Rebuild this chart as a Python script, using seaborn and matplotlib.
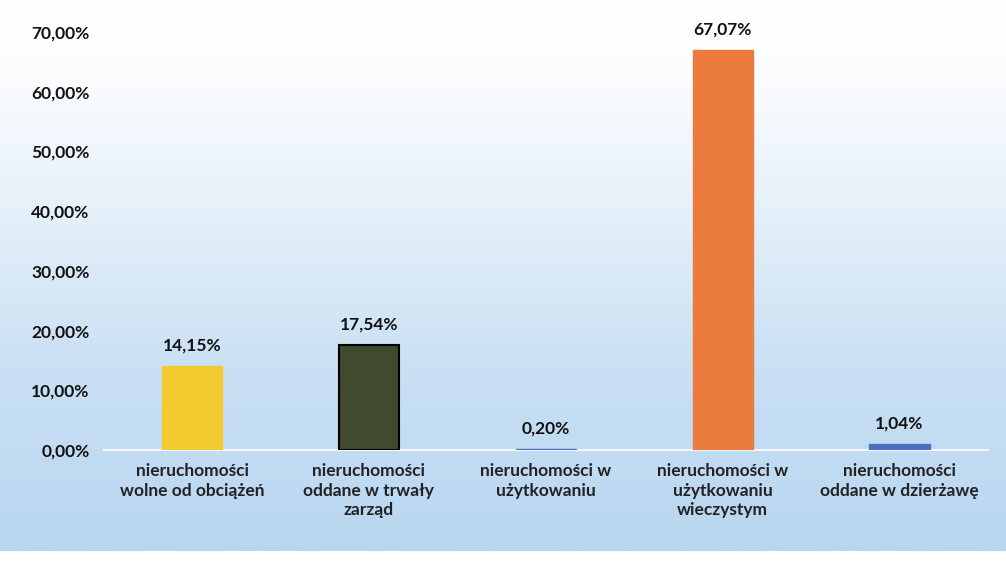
import matplotlib
matplotlib.use("Agg")
import matplotlib.pyplot as plt
from matplotlib.colors import LinearSegmentedColormap
import seaborn as sns
import numpy as np
import pandas as pd

# data
categories = [
    "nieruchomości\nwolne od obciążeń",
    "nieruchomości\noddane w trwały\nzarząd",
    "nieruchomości w\nużytkowaniu",
    "nieruchomości w\nużytkowaniu\nwieczystym",
    "nieruchomości\noddane w dzierżawę",
]
values = [14.15, 17.54, 0.20, 67.07, 1.04]
bar_colors = ["#F1CB2F", "#3F4B2C", "#4A6FBF", "#EC7B3E", "#4A6FBF"]
edge_colors = [None, "black", None, None, None]
yticks = [0, 10, 20, 30, 40, 50, 60, 70]

df = pd.DataFrame({"kategoria": categories, "udzial": values})

sns.set_theme(style="white")
plt.rcParams["font.family"] = ["Lato", "DejaVu Sans"]

fig = plt.figure(figsize=(10.06, 5.62), dpi=100)

# gradient background (white on top, light blue below)
bg = fig.add_axes([0, 0.02, 1, 0.98], zorder=0)
cmap = LinearSegmentedColormap.from_list(
    "bg", [(0, "#B8D6F0"), (0.35, "#CBE1F4"), (0.65, "#E8F2FA"), (0.85, "#FAFCFE"), (1, "#FFFFFF")])
grad = np.linspace(0, 1, 256).reshape(-1, 1)
bg.imshow(grad, aspect="auto", cmap=cmap, origin="lower", extent=[0, 1, 0, 1])
bg.axis("off")

ax = fig.add_axes([0.103, 0.199, 0.879, 0.744], zorder=1)
ax.patch.set_alpha(0)
sns.barplot(data=df, x="kategoria", y="udzial", hue="kategoria",
            palette=bar_colors, legend=False, width=0.34, ax=ax, saturation=1)

for p, ec, fc in zip(ax.patches, edge_colors, bar_colors):
    p.set_zorder(3)
    if ec:
        p.set_edgecolor(ec)
        p.set_linewidth(1.5)
    else:
        p.set_edgecolor(fc)
        p.set_linewidth(1.0)

for cont, v in zip(ax.containers, values):
    ax.bar_label(cont, labels=[f"{v:.2f}%".replace(".", ",")], padding=9,
                 fontsize=12.5, fontweight="bold", color="#111111")

ax.set_ylim(0, 70)
ax.set_yticks(yticks)
ax.set_yticklabels([f"{t:.2f}%".replace(".", ",") for t in yticks],
                   fontsize=12.5, fontweight="bold", color="#111111")
ax.tick_params(axis="y", length=0, pad=10)
ax.tick_params(axis="x", length=0, pad=9)
for lbl in ax.get_xticklabels():
    lbl.set_fontsize(12.5)
    lbl.set_fontweight("bold")
    lbl.set_color("#222222")
    lbl.set_linespacing(1.3)
ax.set_xlabel("")
ax.set_ylabel("")
for s in ["top", "right", "left"]:
    ax.spines[s].set_visible(False)
ax.spines["bottom"].set_color("#F4F8FC")
ax.spines["bottom"].set_linewidth(1.5)
ax.spines["bottom"].set_zorder(1)

fig.savefig("out.png", dpi=100)
